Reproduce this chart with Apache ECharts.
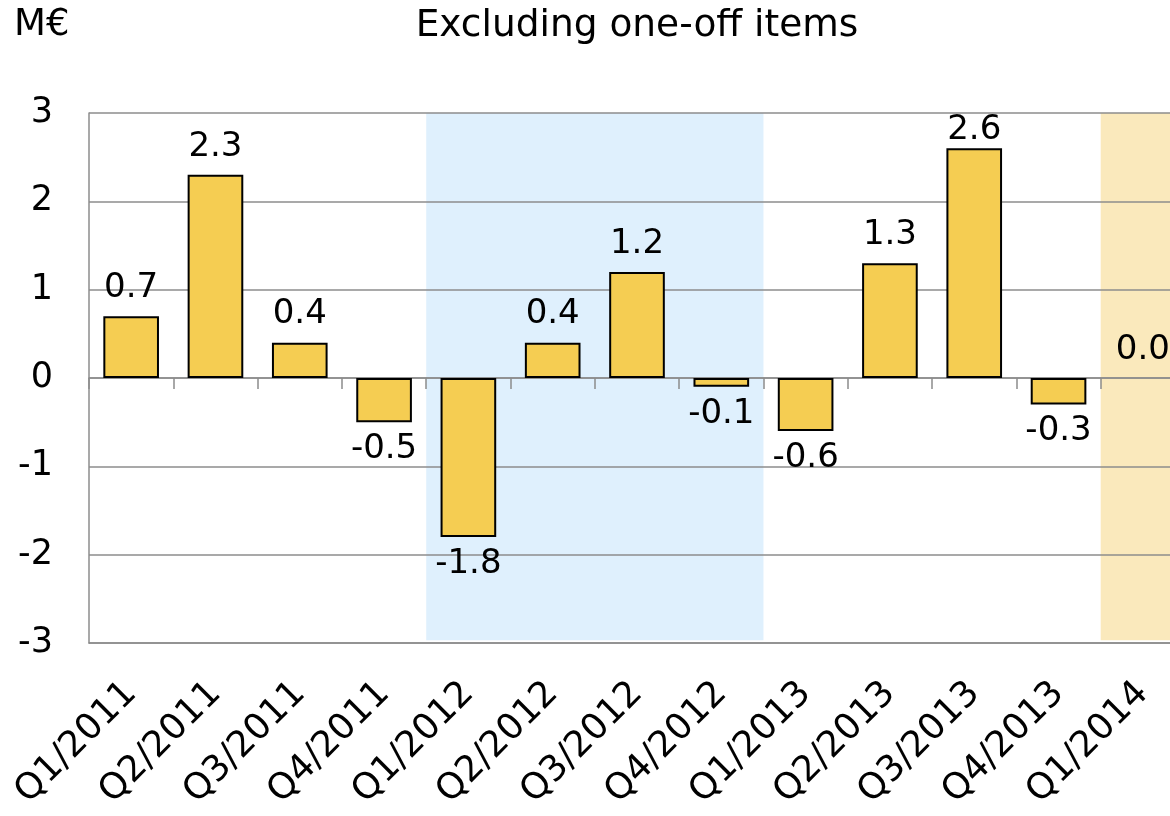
<!DOCTYPE html>
<html>
<head>
<meta charset="utf-8">
<style>
  html, body { margin: 0; padding: 0; background: #fff; overflow: hidden; }
  /* wider than the window: the last category is cut off at the right edge */
  #chart { width: 1200px; height: 816px; }
</style>
<script src="https://cdn.jsdelivr.net/npm/echarts@6/dist/echarts.min.js"></script>
</head>
<body>
<div id="chart"></div>
<script>
const quarters = ['Q1/2011', 'Q2/2011', 'Q3/2011', 'Q4/2011', 'Q1/2012', 'Q2/2012', 'Q3/2012',
  'Q4/2012', 'Q1/2013', 'Q2/2013', 'Q3/2013', 'Q4/2013', 'Q1/2014']
const results = [0.7, 2.3, 0.4, -0.5, -1.8, 0.4, 1.2, -0.1, -0.6, 1.3, 2.6, -0.3, 0.0]
const bandStart = ['Q1/2012', 'Q1/2014']
const bandEnd = ['Q4/2012', 'Q1/2014']
const bandColors = ['#dff0fd', '#fae9bc']

const font = 'DejaVu Sans, Verdana, sans-serif'
const gridGray = '#8c8c8c'
const labelSize = 34
const labelGap = 11
const gridTop = 113

const chart = echarts.init(document.getElementById('chart'))

// bars: negative values get their label below the bar
const buildBars = (gaps) => results.map((v, i) => ({
  value: v,
  itemStyle: v === 0 ? { borderWidth: 0 } : undefined,
  label: v < 0 ? { position: 'bottom', distance: 10 } : { distance: gaps ? gaps[i] : labelGap }
}))

// shaded periods, on a hidden value axis spanning the category bands
const areas = bandStart.map((s, i) => [
  { xAxis: quarters.indexOf(s), yAxis: 3, itemStyle: { color: bandColors[i] } },
  { xAxis: quarters.indexOf(bandEnd[i]) + 1, yAxis: -2.97 }
])

const option = {
  animation: false,
  textStyle: { fontFamily: font },
  graphic: [
    {
      type: 'text', left: 14, top: 7,
      style: { text: 'M€', font: '37px ' + font, fill: '#000' }
    },
    {
      type: 'text', x: 637, y: 26,
      style: { text: 'Excluding one-off items', font: '37.5px ' + font, fill: '#000',
        textAlign: 'center', textVerticalAlign: 'middle' }
    }
  ],
  grid: { left: 89, top: gridTop, bottom: 173, width: 1096, containLabel: false },
  xAxis: [
    {
      type: 'category',
      data: quarters,
      position: 'bottom',
      z: 1.5,
      axisLine: { onZero: false, lineStyle: { color: gridGray, width: 1.5 } },
      axisTick: { show: false },
      axisLabel: { rotate: 45, margin: 45, fontSize: 36, color: '#000', fontFamily: font, interval: 0 }
    },
    {
      type: 'category',
      data: quarters,
      position: 'bottom',
      z: 1.5,
      axisLine: { onZero: true, lineStyle: { color: gridGray, width: 1.5 } },
      axisTick: { show: true, length: 11, lineStyle: { color: gridGray, width: 1.5 } },
      axisLabel: { show: false }
    },
    {
      type: 'value', min: 0, max: quarters.length, show: false
    }
  ],
  yAxis: {
    type: 'value',
    min: -3,
    max: 3,
    interval: 1,
    z: 1.5,
    axisLine: { show: true, lineStyle: { color: gridGray, width: 1.5 } },
    axisTick: { show: false },
    splitLine: { lineStyle: { color: gridGray, width: 1.5 } },
    axisLabel: { fontSize: 35, color: '#000', margin: 36, fontFamily: font }
  },
  series: [
    {
      type: 'line',
      xAxisIndex: 2,
      data: [],
      markArea: { silent: true, data: areas }
    },
    {
      type: 'bar',
      data: buildBars(),
      barCategoryGap: '34%',
      z: 3,
      itemStyle: { color: '#f5cd52', borderColor: '#000', borderWidth: 2 },
      label: {
        show: true,
        position: 'top',
        fontSize: labelSize,
        color: '#000',
        fontFamily: font,
        formatter: p => p.value.toFixed(1)
      }
    }
  ]
}

chart.setOption(option)

// keep positive labels inside the plot area, like the original
const gaps = results.map((v, i) => {
  if (v < 0) return labelGap
  const top = chart.convertToPixel({ xAxisIndex: 0, yAxisIndex: 0 }, [i, v])[1]
  return Math.max(1, Math.min(labelGap, top - gridTop - labelSize))
})
chart.setOption({ series: [{}, { data: buildBars(gaps) }] })
</script>
</body>
</html>
